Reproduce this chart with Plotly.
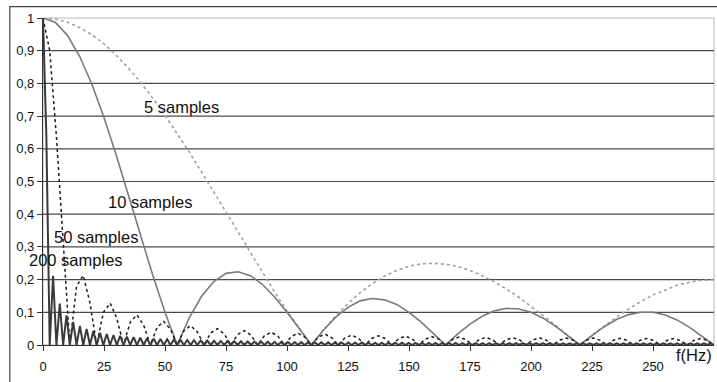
import plotly.graph_objects as go

# ---- data ----
freq_5hz = list(range(0, 276, 5))            # Hz grid for the 5 and 10 sample curves
samples_5 = [1, 0.997, 0.987, 0.971, 0.949, 0.921, 0.886, 0.847, 0.803, 0.755,
             0.703, 0.647, 0.589, 0.529, 0.467, 0.405, 0.343, 0.281, 0.220, 0.161,
             0.104, 0.050, 0, 0.047, 0.089, 0.127, 0.160, 0.188, 0.211, 0.228,
             0.241, 0.248, 0.250, 0.247, 0.240, 0.228, 0.212, 0.193, 0.171, 0.146,
             0.119, 0.090, 0.061, 0.030, 0, 0.030, 0.058, 0.085, 0.110, 0.133,
             0.153, 0.169, 0.183, 0.192, 0.198, 0.200]
samples_10 = [1, 0.987, 0.947, 0.883, 0.798, 0.696, 0.581, 0.458, 0.334, 0.213,
              0.100, 0, 0.084, 0.149, 0.194, 0.219, 0.224, 0.212, 0.185, 0.146,
              0.100, 0.050, 0, 0.046, 0.085, 0.115, 0.135, 0.142, 0.138, 0.124,
              0.100, 0.070, 0.036, 0, 0.034, 0.064, 0.088, 0.105, 0.112, 0.110,
              0.100, 0.082, 0.058, 0.030, 0, 0.029, 0.056, 0.078, 0.093, 0.100,
              0.100, 0.092, 0.076, 0.054, 0.028, 0]

freq_50 = [i * 2.75 for i in range(101)]      # Hz grid for the 50 sample curve
samples_50 = [1, 0.900, 0.637, 0.300, 0, 0.180, 0.2125, 0.129, 0, 0.100,
              0.128, 0.082, 0, 0.070, 0.092, 0.061, 0, 0.054, 0.072, 0.048,
              0, 0.044, 0.059, 0.040, 0, 0.037, 0.050, 0.034, 0, 0.032,
              0.044, 0.030, 0, 0.0285, 0.039, 0.027, 0, 0.026, 0.036, 0.025,
              0, 0.024, 0.033, 0.023, 0, 0.022, 0.030, 0.021, 0, 0.020,
              0.028, 0.020, 0, 0.019, 0.027, 0.019, 0, 0.018, 0.025, 0.018,
              0, 0.017, 0.024, 0.017, 0, 0.017, 0.023, 0.016, 0, 0.016,
              0.022, 0.016, 0, 0.0155, 0.022, 0.015, 0, 0.015, 0.021, 0.015,
              0, 0.015, 0.021, 0.015, 0, 0.0145, 0.0205, 0.0144, 0, 0.0144,
              0.020, 0.014, 0, 0.014, 0.020, 0.014, 0, 0.014, 0.020, 0.014,
              0]

freq_200 = [i * 1.375 for i in range(201)]    # Hz grid for the 200 sample curve
samples_200 = [1, 0.637, 0, 0.212, 0, 0.127, 0, 0.091, 0, 0.071,
               0, 0.058, 0, 0.049, 0, 0.0425, 0, 0.0376, 0, 0.0336,
               0, 0.0305, 0, 0.0278, 0, 0.0256, 0, 0.0238, 0, 0.0221,
               0, 0.0207, 0, 0.0195, 0, 0.0184, 0, 0.0175, 0, 0.0166,
               0, 0.0158, 0, 0.0151, 0, 0.0144, 0, 0.0139, 0, 0.0133,
               0, 0.0128, 0, 0.0124, 0, 0.0119, 0, 0.0116, 0, 0.0112,
               0, 0.0108, 0, 0.0105, 0, 0.0102, 0, 0.0100, 0, 0.0097,
               0, 0.0094, 0, 0.0092, 0, 0.0090, 0, 0.0088, 0, 0.0086,
               0, 0.0084, 0, 0.0082, 0, 0.0081, 0, 0.0079, 0, 0.0078,
               0, 0.0076, 0, 0.0075, 0, 0.0074, 0, 0.0072, 0, 0.0071,
               0, 0.0070, 0, 0.0069, 0, 0.0068, 0, 0.0067, 0, 0.0066,
               0, 0.0065, 0, 0.0064, 0, 0.0064, 0, 0.0063, 0, 0.0062,
               0, 0.0061, 0, 0.0061, 0, 0.0060, 0, 0.0060, 0, 0.0059,
               0, 0.0058, 0, 0.0058, 0, 0.0057, 0, 0.0057, 0, 0.0056,
               0, 0.0056, 0, 0.0055, 0, 0.0055, 0, 0.0055, 0, 0.0054,
               0, 0.0054, 0, 0.0054, 0, 0.0053, 0, 0.0053, 0, 0.0053,
               0, 0.0052, 0, 0.0052, 0, 0.0052, 0, 0.0052, 0, 0.0052,
               0, 0.0051, 0, 0.0051, 0, 0.0051, 0, 0.0051, 0, 0.0051,
               0, 0.0051, 0, 0.0050, 0, 0.0050, 0, 0.0050, 0, 0.0050,
               0, 0.0050, 0, 0.0050, 0, 0.0050, 0, 0.0050, 0, 0.0050,
               0]

y_ticks = [0, 0.1, 0.2, 0.3, 0.4, 0.5, 0.6, 0.7, 0.8, 0.9, 1]
y_tick_labels = ["0", "0,1", "0,2", "0,3", "0,4", "0,5", "0,6", "0,7", "0,8", "0,9", "1"]
x_ticks = [0, 25, 50, 75, 100, 125, 150, 175, 200, 225, 250]
x_tick_labels = ["0", "25", "50", "75", "100", "125", "150", "175", "200", "225", "250"]

series_labels = ["5 samples", "10 samples", "50 samples", "200 samples"]
label_pos_x = [40.5, 26, 3.8, 0]
label_shift_px = [0, 0, 0, -16]
label_pos_y = [0.728, 0.436, 0.33, 0.26]

FONT = "Liberation Sans, Arial, sans-serif"

fig = go.Figure()
fig.add_trace(go.Scatter(x=freq_5hz, y=samples_5, mode="lines",
                         line=dict(color="#a0a0a0", width=1.6, dash="dot")))
fig.add_trace(go.Scatter(x=freq_5hz, y=samples_10, mode="lines",
                         line=dict(color="#7a7a7a", width=1.6)))
fig.add_trace(go.Scatter(x=freq_50, y=samples_50, mode="lines",
                         line=dict(color="#1a1a1a", width=1.5, dash="dot")))
fig.add_trace(go.Scatter(x=freq_200, y=samples_200, mode="lines",
                         line=dict(color="#3a3a3a", width=2)))

shapes = []
# plot area frame (light)
shapes.append(dict(type="rect", xref="paper", yref="paper", x0=0, y0=0, x1=1, y1=1,
                   line=dict(color="#b8b8b8", width=1), layer="below"))
# gridlines
for v in y_ticks[1:-1]:
    shapes.append(dict(type="line", xref="paper", yref="y", x0=0, x1=1, y0=v, y1=v,
                       line=dict(color="#4a4a4a", width=1.2), layer="below"))
# outer chart border
shapes.append(dict(type="rect", xref="paper", yref="paper", x0=-0.0495, y0=-0.5,
                   x1=1.5, y1=1.0345, line=dict(color="#444444", width=1.2)))

annotations = []
for t, ax_, sh, ay_ in zip(series_labels, label_pos_x, label_shift_px, label_pos_y):
    annotations.append(dict(x=ax_, y=ay_, xref="x", yref="y", text=t, showarrow=False,
                            xanchor="left", yanchor="middle", xshift=sh,
                            font=dict(family=FONT, size=16.5, color="#111")))
annotations.append(dict(x=1, y=-0.03, xref="paper", yref="paper", text="f(Hz)",
                        showarrow=False, xanchor="right", yanchor="middle",
                        font=dict(family=FONT, size=16.5, color="#111")))

fig.update_layout(
    width=717, height=382,
    margin=dict(l=43, r=3, t=18, b=37, autoexpand=False),
    paper_bgcolor="white", plot_bgcolor="white",
    showlegend=False,
    shapes=shapes, annotations=annotations,
    font=dict(family=FONT, size=13, color="#111"),
)
fig.update_xaxes(range=[0, 275], showgrid=False, zeroline=False,
                 showline=True, linecolor="#333", linewidth=1.2,
                 ticks="outside", ticklen=5, tickcolor="#333",
                 ticklabelstandoff=4,
                 tickvals=x_ticks, ticktext=x_tick_labels,
                 tickfont=dict(size=13, family=FONT))
fig.update_yaxes(range=[0, 1], showgrid=False, zeroline=False,
                 showline=True, linecolor="#333", linewidth=1.2,
                 ticks="outside", ticklen=5, tickcolor="#333",
                 tickvals=y_ticks, ticktext=y_tick_labels,
                 tickfont=dict(size=13, family=FONT))

fig.write_html("out.html", config={"displayModeBar": False},
               post_script="document.body.style.margin='0';document.body.style.overflow='hidden';")
